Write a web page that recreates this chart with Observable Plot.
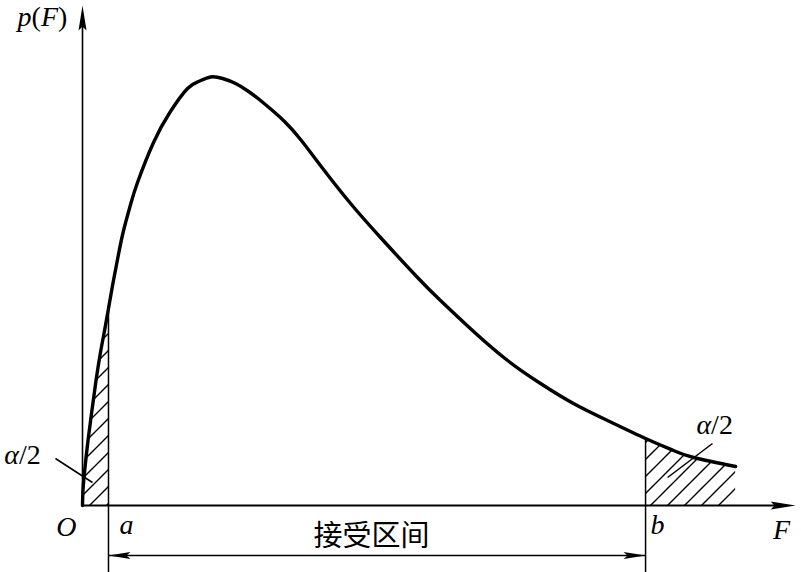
<!DOCTYPE html>
<html><head><meta charset="utf-8">
<script src="https://cdn.jsdelivr.net/npm/d3@7"></script>
<script src="https://cdn.jsdelivr.net/npm/@observablehq/plot@0.6"></script>
<style>html,body{margin:0;padding:0;background:#fff}</style>
</head><body><div id="chart"></div>
<script>
// F-distribution density curve
const curveF = [0, 0.0034, 0.014, 0.031, 0.053, 0.076, 0.101, 0.124, 0.146, 0.174, 0.202, 0.230, 0.270, 0.309, 0.399, 0.494, 0.590, 0.652, 0.719, 0.787, 0.860, 0.933, 1.000, 1.067, 1.135, 1.225, 1.354, 1.506, 1.674, 1.882, 2.011, 2.197, 2.388, 2.573, 2.758, 2.949, 3.163, 3.320, 3.433, 3.669];
const curveP = [0, 0.034, 0.076, 0.13, 0.19, 0.25, 0.306, 0.35, 0.394, 0.45, 0.502, 0.549, 0.602, 0.646, 0.726, 0.788, 0.834, 0.848, 0.857, 0.854, 0.844, 0.828, 0.81, 0.79, 0.768, 0.732, 0.672, 0.604, 0.536, 0.456, 0.41, 0.348, 0.29, 0.244, 0.204, 0.17, 0.134, 0.11, 0.096, 0.078];

// critical values
const aF = 0.146, bF = 3.163;
const aP = 0.394, bP = 0.134;

// axes extents
const xAxisEnd = 4.006;
const yAxisEnd = 1.0;
const lowP = -0.134;     // bottom end of a/b guide lines
const intervalP = -0.1;  // level of the acceptance interval arrow

// labels
const labelText = ["p(F)", "F", "O", "a", "b"];
const labelF = [-0.225, 3.927, -0.09, 0.247, 3.23];
const labelP = [0.96, -0.066, -0.06, -0.056, -0.056];

const alphaText = ["α/2", "α/2"];
const alphaF = [-0.337, 3.551];
const alphaP = [0.084, 0.144];

// leader lines from α/2 labels into the shaded tails
const leaderF1 = [-0.152, 3.539], leaderP1 = [0.094, 0.124];
const leaderF2 = [0.056, 3.287], leaderP2 = [0.046, 0.056];

const intervalLabel = "接受区间";
const intervalLabelF = 1.624, intervalLabelP = -0.062;

// build tables
const curve = curveF.map((f, i) => ({F: f, p: curveP[i]}));
const leftTail = curve.filter(d => d.F <= aF);
const rightTail = curve.filter(d => d.F >= bF);
const labels = labelText.map((t, i) => ({t, F: labelF[i], p: labelP[i]}));
const alphas = alphaText.map((t, i) => ({t, F: alphaF[i], p: alphaP[i]}));
const leaders = leaderF1.map((f, i) => ({x1: f, y1: leaderP1[i], x2: leaderF2[i], y2: leaderP2[i]}));
const heads = [
  {F: 0, p: yAxisEnd, r: 0, big: true},
  {F: xAxisEnd, p: 0, r: 90, big: true},
  {F: aF, p: intervalP, r: -90, big: false},
  {F: bF, p: intervalP, r: 90, big: false}
];

const bigHead = {draw(ctx) { ctx.moveTo(0, 0); ctx.lineTo(4, 25); ctx.lineTo(0, 21); ctx.lineTo(-4, 25); ctx.closePath(); }};
const smallHead = {draw(ctx) { ctx.moveTo(0, 0); ctx.lineTo(3.5, 22); ctx.lineTo(0, 18); ctx.lineTo(-3.5, 22); ctx.closePath(); }};

const serif = "'Liberation Serif', 'Times New Roman', serif";

const svg = Plot.plot({
  width: 801, height: 572,
  marginLeft: 82, marginRight: 0, marginTop: 0, marginBottom: 67,
  x: {domain: [0, 4.039], axis: null},
  y: {domain: [0, 1.01], axis: null},
  style: {background: "white", overflow: "visible"},
  marks: [
    Plot.areaY(leftTail, {x: "F", y: "p", curve: "natural", fill: "url(#hatch)"}),
    Plot.areaY(rightTail, {x: "F", y: "p", curve: "natural", fill: "url(#hatch)"}),
    // axes
    Plot.link([{x1: 0, y1: 0, x2: 0, y2: yAxisEnd - 0.03}], {x1: "x1", y1: "y1", x2: "x2", y2: "y2", stroke: "black", strokeWidth: 1.6}),
    Plot.link([{x1: 0, y1: 0, x2: xAxisEnd - 0.1, y2: 0}], {x1: "x1", y1: "y1", x2: "x2", y2: "y2", stroke: "black", strokeWidth: 1.8}),
    // critical value guide lines
    Plot.link([{F: aF, top: aP}, {F: bF, top: bP}], {x1: "F", x2: "F", y1: "top", y2: () => lowP, stroke: "black", strokeWidth: 1.5}),
    // acceptance interval arrow
    Plot.link([{x1: aF, x2: bF}], {x1: "x1", x2: "x2", y1: () => intervalP, y2: () => intervalP, stroke: "black", strokeWidth: 1.5}),
    Plot.dot(heads.filter(d => d.big), {x: "F", y: "p", rotate: "r", symbol: bigHead, fill: "black", stroke: "none"}),
    Plot.dot(heads.filter(d => !d.big), {x: "F", y: "p", rotate: "r", symbol: smallHead, fill: "black", stroke: "none"}),
    // curve
    Plot.line(curve, {x: "F", y: "p", curve: "natural", stroke: "black", strokeWidth: 3.4, strokeLinejoin: "round", strokeLinecap: "round"}),
    // leader lines
    Plot.link(leaders, {x1: "x1", y1: "y1", x2: "x2", y2: "y2", stroke: "black", strokeWidth: 1.5}),
    // labels
    Plot.text(labels, {x: "F", y: "p", text: "t", lineAnchor: "bottom", fontFamily: serif, fontStyle: "italic", fontSize: 28, fill: "black"}),
    Plot.text(alphas, {x: "F", y: "p", text: "t", lineAnchor: "bottom", fontFamily: serif, fontSize: 28, fill: "black"}),
    Plot.text([intervalLabel], {x: () => intervalLabelF, y: () => intervalLabelP, text: d => d, fontFamily: "'Noto Sans CJK SC', sans-serif", fontSize: 29, fill: "black"})
  ]
});

// hatch pattern used by the shaded tails
const defs = d3.select(svg).insert("defs", ":first-child");
const pat = defs.append("pattern").attr("id", "hatch").attr("patternUnits", "userSpaceOnUse")
  .attr("width", 17).attr("height", 17);
pat.append("path").attr("d", "M0,17 L17,0 M-3,3 L3,-3 M14,20 L20,14")
  .attr("stroke", "black").attr("stroke-width", 1.4).attr("fill", "none");

// make the α italic and the parentheses of p(F) upright
d3.select(svg).selectAll("text tspan, text").each(function() {
  const el = this;
  if (el.childNodes.length === 1 && el.childNodes[0].nodeType === 3) {
    const s = el.textContent;
    if (s === "α/2") {
      el.textContent = "";
      d3.select(el).append("tspan").attr("font-style", "italic").text("α");
      d3.select(el).append("tspan").text("/2");
    } else if (s === "p(F)") {
      el.textContent = "";
      d3.select(el).append("tspan").text("p");
      d3.select(el).append("tspan").attr("font-style", "normal").text("(");
      d3.select(el).append("tspan").text("F");
      d3.select(el).append("tspan").attr("font-style", "normal").text(")");
    }
  }
});

document.getElementById("chart").appendChild(svg);
</script>
</body></html>
